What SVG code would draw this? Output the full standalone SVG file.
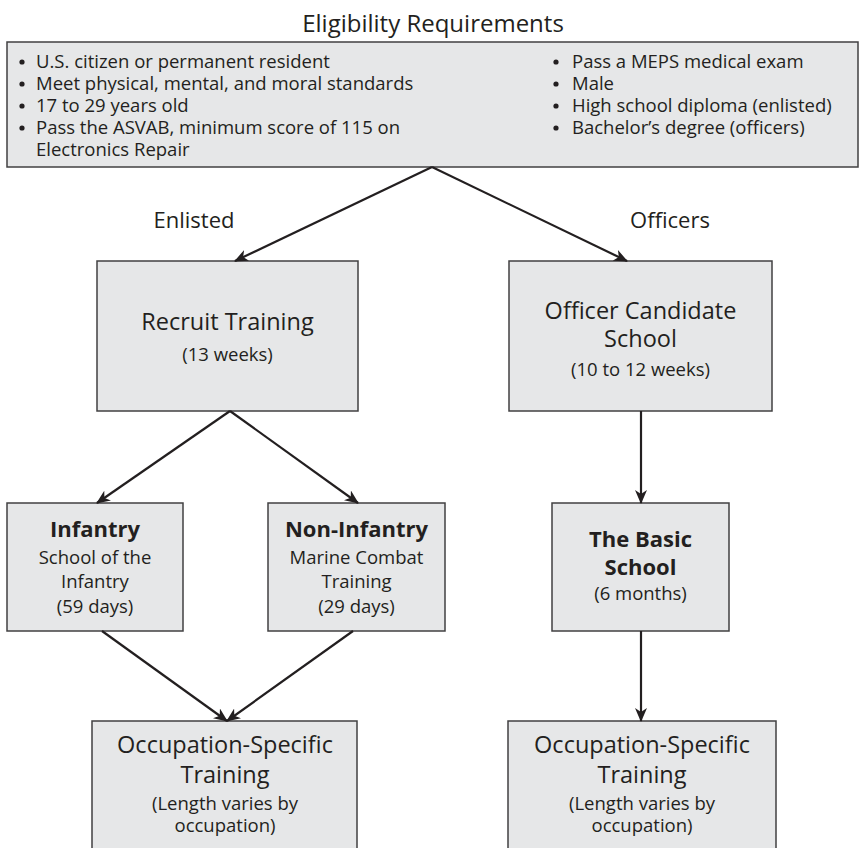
<svg xmlns="http://www.w3.org/2000/svg" width="860" height="848" viewBox="0 0 860 848">
<style>
text{font-family:"Open Sans","Noto Sans","Liberation Sans",sans-serif;fill:#231f20}
.box{fill:#e6e7e8;stroke:#414042;stroke-width:1.5}
.t{font-size:23.5px;text-anchor:middle}
.b{font-size:22px;font-weight:bold;text-anchor:middle}
.s{font-size:18.5px;text-anchor:middle}
.li{font-size:18.5px}
.lbl{font-size:22px;text-anchor:middle}
.dot{fill:#231f20}
.con line{stroke:#231f20;stroke-width:2.2;fill:none}
</style>
<defs>
<marker id="ah" viewBox="0 0 14 12" refX="13" refY="6" markerWidth="14" markerHeight="12" markerUnits="userSpaceOnUse" orient="auto">
<path d="M0,0 L14,6 L0,12 L4,6 Z" fill="#231f20"/>
</marker>
</defs>
<text x="433" y="32" style="font-size:24px;text-anchor:middle">Eligibility Requirements</text>
<g id="eligibility">
<rect class="box" x="7" y="42" width="851" height="125"/>
<circle class="dot" cx="22" cy="62" r="2.6"/>
<circle class="dot" cx="22" cy="84" r="2.6"/>
<circle class="dot" cx="22" cy="106" r="2.6"/>
<circle class="dot" cx="22" cy="128" r="2.6"/>
<text class="li" x="36" y="68">U.S. citizen or permanent resident</text>
<text class="li" x="36" y="90">Meet physical, mental, and moral standards</text>
<text class="li" x="36" y="112">17 to 29 years old</text>
<text class="li" x="36" y="134">Pass the ASVAB, minimum score of 115 on</text>
<text class="li" x="36" y="156">Electronics Repair</text>
<circle class="dot" cx="556" cy="62" r="2.6"/>
<circle class="dot" cx="556" cy="84" r="2.6"/>
<circle class="dot" cx="556" cy="106" r="2.6"/>
<circle class="dot" cx="556" cy="128" r="2.6"/>
<text class="li" x="572" y="68">Pass a MEPS medical exam</text>
<text class="li" x="572" y="90">Male</text>
<text class="li" x="572" y="112">High school diploma (enlisted)</text>
<text class="li" x="572" y="134">Bachelor’s degree (officers)</text>
</g>
<text class="lbl" x="194" y="228">Enlisted</text>
<text class="lbl" x="670" y="228">Officers</text>
<g id="recruit">
<rect class="box" x="97" y="261" width="261" height="150"/>
<text class="t" x="227.5" y="330">Recruit Training</text>
<text class="s" x="227.5" y="361">(13 weeks)</text>
</g>
<g id="ocs">
<rect class="box" x="509" y="261" width="263" height="150"/>
<text class="t" x="640.5" y="319">Officer Candidate</text>
<text class="t" x="640.5" y="347">School</text>
<text class="s" x="640.5" y="376">(10 to 12 weeks)</text>
</g>
<g id="infantry">
<rect class="box" x="7" y="503" width="176" height="128"/>
<text class="b" x="95" y="537">Infantry</text>
<text class="s" x="95" y="564">School of the</text>
<text class="s" x="95" y="588">Infantry</text>
<text class="s" x="95" y="613">(59 days)</text>
</g>
<g id="noninfantry">
<rect class="box" x="268" y="503" width="177" height="128"/>
<text class="b" x="356.5" y="537">Non-Infantry</text>
<text class="s" x="356.5" y="564">Marine Combat</text>
<text class="s" x="356.5" y="588">Training</text>
<text class="s" x="356.5" y="613">(29 days)</text>
</g>
<g id="basic">
<rect class="box" x="552" y="503" width="177" height="128"/>
<text class="b" x="640.5" y="547">The Basic</text>
<text class="b" x="640.5" y="575">School</text>
<text class="s" x="640.5" y="600">(6 months)</text>
</g>
<g id="ost-enlisted">
<rect class="box" x="92" y="721" width="265" height="140"/>
<text class="t" x="225" y="753">Occupation-Specific</text>
<text class="t" x="225" y="783">Training</text>
<text class="s" x="225" y="810">(Length varies by</text>
<text class="s" x="225" y="832">occupation)</text>
</g>
<g id="ost-officers">
<rect class="box" x="508" y="721" width="268" height="140"/>
<text class="t" x="642" y="753">Occupation-Specific</text>
<text class="t" x="642" y="783">Training</text>
<text class="s" x="642" y="810">(Length varies by</text>
<text class="s" x="642" y="832">occupation)</text>
</g>
<g id="connectors" class="con">
<line x1="432" y1="167" x2="235" y2="261" marker-end="url(#ah)"/>
<line x1="432" y1="167" x2="627" y2="261" marker-end="url(#ah)"/>
<line x1="230" y1="411" x2="97" y2="503" marker-end="url(#ah)"/>
<line x1="230" y1="411" x2="358" y2="503" marker-end="url(#ah)"/>
<line x1="102" y1="631" x2="227" y2="721" marker-end="url(#ah)"/>
<line x1="353" y1="631" x2="227" y2="721" marker-end="url(#ah)"/>
<line x1="641" y1="411" x2="641" y2="503" marker-end="url(#ah)"/>
<line x1="641" y1="631" x2="641" y2="721" marker-end="url(#ah)"/>
</g>
</svg>
